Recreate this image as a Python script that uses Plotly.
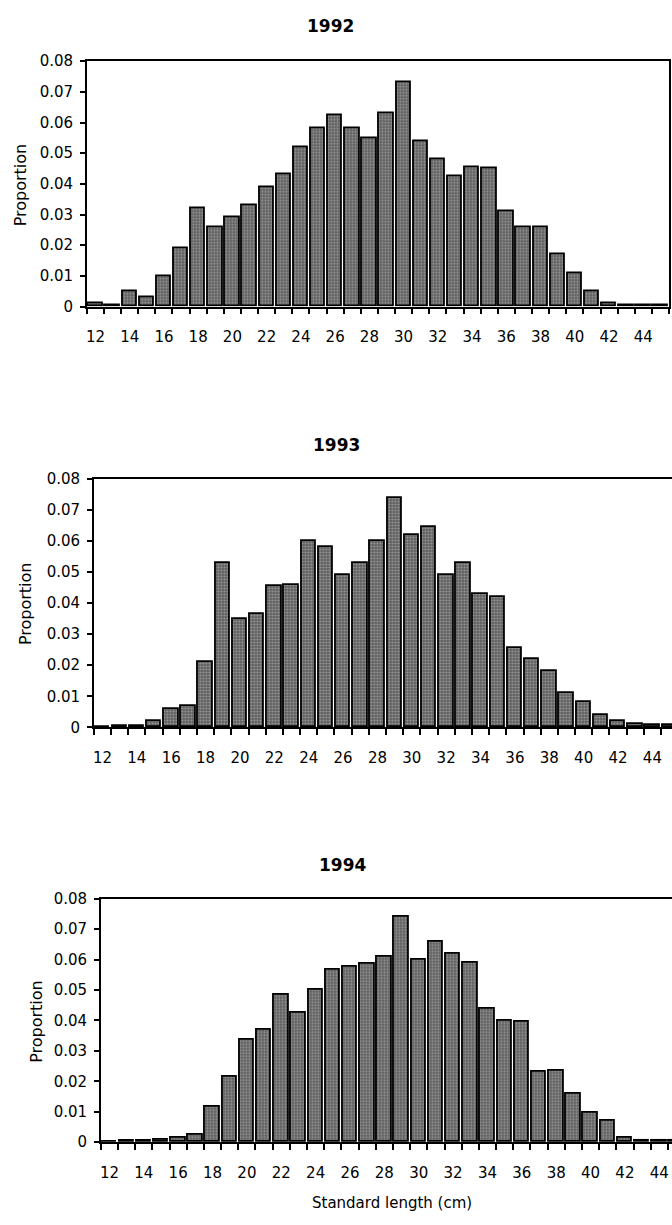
import plotly.graph_objects as go

# Standard length classes (cm) and proportion of fish in each class
lengths = list(range(12, 46))

prop_1992 = [0.0012, 0.0005, 0.005, 0.003, 0.010, 0.019, 0.032, 0.026, 0.029, 0.033,
             0.039, 0.043, 0.052, 0.058, 0.0625, 0.058, 0.055, 0.063, 0.073, 0.054,
             0.048, 0.0425, 0.0455, 0.045, 0.031, 0.026, 0.026, 0.017, 0.011, 0.005,
             0.001, 0.0003, 0.0005, 0.0003]

prop_1993 = [0.0, 0.0005, 0.0003, 0.002, 0.006, 0.007, 0.021, 0.053, 0.035, 0.0365,
             0.0455, 0.046, 0.060, 0.058, 0.049, 0.053, 0.060, 0.074, 0.062, 0.0645,
             0.049, 0.053, 0.043, 0.042, 0.0255, 0.022, 0.018, 0.011, 0.008, 0.004,
             0.002, 0.001, 0.0008, 0.0008]

prop_1994 = [0.0001, 0.0003, 0.0005, 0.0008, 0.0015, 0.0025, 0.0115, 0.0215, 0.0335, 0.037,
             0.0485, 0.0425, 0.050, 0.0565, 0.0575, 0.0585, 0.061, 0.074, 0.060, 0.066,
             0.062, 0.059, 0.044, 0.040, 0.0395, 0.023, 0.0235, 0.016, 0.0095, 0.007,
             0.0015, 0.0005, 0.0005, 0.0005]

years = ["1992", "1993", "1994"]
series = [prop_1992, prop_1993, prop_1994]

y_tick_vals = [0, 0.01, 0.02, 0.03, 0.04, 0.05, 0.06, 0.07, 0.08]
y_tick_text = ["0", "0.01", "0.02", "0.03", "0.04", "0.05", "0.06", "0.07", "0.08"]
x_tick_vals = list(range(12, 45, 2))
x_tick_text = [str(v) for v in x_tick_vals]
class_edges = [v - 0.5 for v in range(12, 47)]

x_title = "Standard length (cm)"
y_title = "Proportion"

W, H = 672, 1225
FONT = "DejaVu Sans"

# Panel geometry in pixels: plot-area left/right/top/bottom, x range, boxed frame
panels = [
    dict(l=86, r=669, t=53, b=302, xr=[11.5, 45.5], boxed=True,
         title=(330, 17), ylab=(19, 178)),
    dict(l=93, r=672, t=477, b=729, xr=[11.5, 45.14], boxed=False,
         title=(336, 443), ylab=(24, 603)),
    dict(l=100, r=672, t=903, b=1150, xr=[11.5, 44.74], boxed=False,
         title=(342, 869), ylab=(36, 1027)),
]

fig = go.Figure()
annotations = []

for i, (yr, vals, p) in enumerate(zip(years, series, panels)):
    n = i + 1
    xa = "x" if n == 1 else f"x{n}"
    ya = "y" if n == 1 else f"y{n}"
    fig.add_trace(go.Bar(
        x=lengths, y=vals, xaxis=xa, yaxis=ya, width=0.84,
        marker=dict(
            color="#606060",
            line=dict(color="black", width=1.8),
            pattern=dict(shape=".", fgcolor="#d8d8d8", size=3, solidity=0.3),
        ),
        showlegend=False,
    ))

    xkey = "xaxis" if n == 1 else f"xaxis{n}"
    ykey = "yaxis" if n == 1 else f"yaxis{n}"
    fig.update_layout(**{
        xkey: dict(
            domain=[p["l"] / W, p["r"] / W], anchor=ya, range=p["xr"],
            tickmode="array", tickvals=x_tick_vals, ticktext=x_tick_text,
            ticks="", ticklabelstandoff=16,
            minor=dict(tickmode="array", tickvals=class_edges, ticks="outside",
                       ticklen=6, tickwidth=1.5, tickcolor="black"),
            showline=True, linecolor="black", linewidth=1.6, mirror=True,
            showgrid=False, zeroline=False, fixedrange=True,
            tickfont=dict(family=FONT, size=15, color="black"),
        ),
        ykey: dict(
            domain=[1 - p["b"] / H, 1 - p["t"] / H], anchor=xa, range=[0, 0.08],
            tickmode="array", tickvals=y_tick_vals, ticktext=y_tick_text,
            ticks="outside", ticklen=5, tickwidth=1.5, tickcolor="black",
            ticklabelstandoff=4,
            showline=True, linecolor="black", linewidth=1.6,
            mirror=True if p["boxed"] else False,
            showgrid=False, zeroline=False, fixedrange=True,
            tickfont=dict(family=FONT, size=15, color="black"),
        ),
    })

    annotations.append(dict(
        text=f"<b>{yr}</b>", x=p["title"][0] / W, y=1 - p["title"][1] / H,
        xref="paper", yref="paper", xanchor="center", yanchor="middle",
        showarrow=False, font=dict(family=FONT, size=17, color="black"),
    ))
    annotations.append(dict(
        text=y_title, x=p["ylab"][0] / W, y=1 - p["ylab"][1] / H,
        xref="paper", yref="paper", xanchor="center", yanchor="middle",
        textangle=-90, showarrow=False,
        font=dict(family=FONT, size=16, color="black"),
    ))

annotations.append(dict(
    text=x_title, x=392 / W, y=1 - 1212 / H, xref="paper", yref="paper",
    xanchor="center", yanchor="middle", showarrow=False,
    font=dict(family=FONT, size=15, color="black"),
))

fig.update_layout(
    width=W, height=H, margin=dict(l=0, r=0, t=0, b=0),
    paper_bgcolor="white", plot_bgcolor="white",
    bargap=0, annotations=annotations,
)

fig.write_html("out.html", config={"displayModeBar": False})
